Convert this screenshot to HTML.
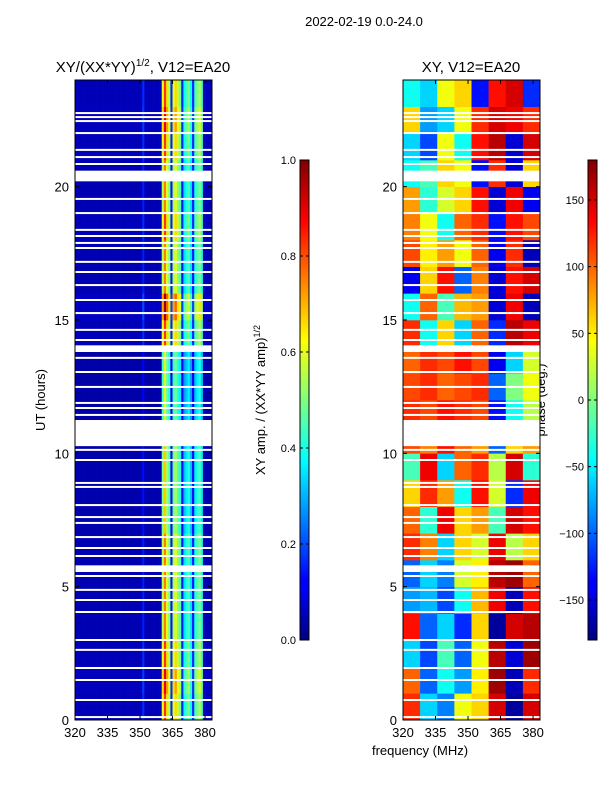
<!DOCTYPE html>
<html><head><meta charset="utf-8"><style>
body{margin:0;background:#fff;font-family:"Liberation Sans",sans-serif}
svg text{font-family:"Liberation Sans",sans-serif;fill:#000}
</style></head><body>
<svg id="s" width="600" height="800" xmlns="http://www.w3.org/2000/svg">
<defs>
<linearGradient id="jet" x1="0" y1="1" x2="0" y2="0">
<stop offset="0" stop-color="#00007f"/><stop offset="0.11" stop-color="#0000ff"/><stop offset="0.125" stop-color="#0000ff"/>
<stop offset="0.375" stop-color="#00ffff"/><stop offset="0.625" stop-color="#ffff00"/><stop offset="0.875" stop-color="#ff0000"/><stop offset="1" stop-color="#7f0000"/>
</linearGradient>
</defs>
<text x="364" y="26" font-size="13" text-anchor="middle">2022-02-19 0.0-24.0</text>
<text x="143" y="72" font-size="15" text-anchor="middle">XY/(XX*YY)<tspan font-size="10" dy="-6">1/2</tspan><tspan dy="6">, V12=EA20</tspan></text>
<text x="471" y="72" font-size="15" text-anchor="middle">XY, V12=EA20</text>
<text x="420" y="755" font-size="13" text-anchor="middle">frequency (MHz)</text>
<text transform="translate(45,400) rotate(-90)" font-size="13" text-anchor="middle">UT (hours)</text>
<text transform="translate(265,400) rotate(-90)" font-size="13" text-anchor="middle">XY amp. / (XX*YY amp)<tspan font-size="9" dy="-5">1/2</tspan></text>
<text transform="translate(545,400) rotate(-90)" font-size="13" text-anchor="middle">phase (deg.)</text>
<g id="g"></g>
</svg>
<script>
const ampCols=[0.05,0.05,0.05,0.05,0.05,0.05,0.05,0.05,0.05,0.05,0.05,0.05,0.05,0.05,0.05,0.05,0.05,0.05,0.05,0.05,0.05,0.05,0.05,0.05,0.05,0.05,0.05,0.05,0.05,0.05,0.05,0.15,0.05,0.05,0.05,0.05,0.05,0.05,0.05,0.05,0.55,0.75,0.6,0.5,0.15,0.55,0.6,0.5,0.45,0.15,0.35,0.4,0.45,0.35,0.15,0.4,0.45,0.5,0.4,0.05,0.05,0.05,0.05,0.05];
const ampHourFactor=[1.1,1.2,1.1,1.0,1.0,1.0,1.0,0.9,0.9,0.9,0.9,0.8,0.8,0.8,1.1,1.3,1.0,1.0,1.1,1.0,1.0,1.1,1.2,1.1];
const phase=[
[120,-60,-90,40,60,150,-170,150],[100,-100,-40,-80,50,170,-160,120],[-60,-110,-20,-100,40,160,-150,170],
[130,-100,-60,-120,60,-170,150,160],[-80,-70,-110,-40,70,140,-160,130],[-100,-60,-90,30,50,160,170,100],
[120,90,-60,60,30,140,20,60],[100,-30,140,60,80,-20,150,130],[60,120,80,-40,130,30,-120,140],
[-20,140,-60,100,120,20,150,-30],[110,90,130,100,80,-100,60,80],[120,110,130,120,110,-130,-40,20],
[110,120,100,110,120,-100,0,40],[100,120,110,130,110,-140,-60,30],[120,-40,60,-60,100,-120,160,140],
[-40,100,-20,70,80,-150,140,-160],[-140,60,130,-100,90,-150,130,150],[110,50,80,40,100,-140,120,-160],
[90,40,-40,100,120,-130,130,110],[80,-30,30,60,130,-150,140,-140],[-40,-20,60,40,-130,120,-150,60],
[-60,-110,40,-40,130,160,-150,150],[60,-80,-60,40,120,150,140,120],[-40,-60,40,60,-130,130,150,-120]];
const gapsWide=[[20.2,20.6],[13.8,14.05],[10.27,11.25],[5.55,5.8]];
const gapLines=[22.76,22.61,22.46,22.01,21.38,21.11,20.85,19.54,19.01,18.38,18.15,17.89,17.7,17.18,16.8,16.31,15.75,15.26,14.63,14.25,13.58,13.05,12.49,11.89,11.7,11.44,10.13,9.75,8.89,8.74,8.06,7.61,7.39,6.86,6.45,6.15,5.4,4.88,4.5,4.05,3.0,2.63,1.95,1.5,0.75,0.11];
const xTicks=[320,335,350,365,380];
const yTicks=[0,5,10,15,20];
const ampTicks=[0.0,0.2,0.4,0.6,0.8,1.0];
const phaseTicks=[-150,-100,-50,0,50,100,150];

const NS='http://www.w3.org/2000/svg', G=document.getElementById('g');
const F0=320,F1=383.2,T0=0,T1=24,Y0=720,Y1=80;
function jet(v){v=Math.max(0,Math.min(1,v));const c=t=>Math.round(255*Math.max(0,Math.min(1,1.5-Math.abs(4*v-t))));return `rgb(${c(3)},${c(2)},${c(1)})`;}
function el(t,a,p){const e=document.createElementNS(NS,t);for(const k in a)e.setAttribute(k,a[k]);(p||G).appendChild(e);return e;}
const yS=h=>Y0-(h-T0)/(T1-T0)*(Y0-Y1);
function panel(x0,x1,name){
  const xS=f=>x0+(f-F0)/(F1-F0)*(x1-x0);
  const g=el('g',{});
  const cp=el('clipPath',{id:'c'+name},g);el('rect',{x:x0,y:Y1,width:x1-x0,height:Y0-Y1},cp);
  const cells=el('g',{'clip-path':`url(#c${name})`},g);
  return {xS,g,cells};
}
// left amplitude
const L=panel(75,212,'amp-panel');
for(let h=0;h<24;h++)for(let i=0;i<ampCols.length;i++){
  const x=L.xS(F0+i),w=L.xS(F0+i+1)-x;
  const r=el('rect',{x:x,y:yS(h+1),width:w+0.3,height:yS(h)-yS(h+1)+0.3,fill:jet(ampCols[i]*ampHourFactor[h])},L.cells);
  
  
}
// right phase
const R=panel(403,540,'phase-panel');
const fw=(F1-F0)/8;
for(let h=0;h<24;h++)for(let j=0;j<8;j++){
  const x=R.xS(F0+j*fw),w=R.xS(F0+(j+1)*fw)-x;
  const r=el('rect',{x:x,y:yS(h+1),width:w+0.3,height:yS(h)-yS(h+1)+0.3,fill:jet((phase[h][j]+180)/360)},R.cells);
  
  
}
[L,R].forEach(P=>{
  gapsWide.forEach(g=>{const r=el('rect',{x:0,y:yS(g[1]),width:600,height:yS(g[0])-yS(g[1]),fill:'#fff'},P.cells);});
  gapLines.forEach(h=>{const r=el('rect',{x:0,y:yS(h)-1,width:600,height:2,fill:'#fff'},P.cells);});
});
function frame(P,x0,x1,showY){
  el('rect',{x:x0,y:Y1,width:x1-x0,height:Y0-Y1,fill:'none',stroke:'#000'},P.g);
  xTicks.forEach(t=>{const x=P.xS(t);el('line',{x1:x,x2:x,y1:Y0,y2:Y0-4,stroke:'#000'},P.g);el('line',{x1:x,x2:x,y1:Y1,y2:Y1+4,stroke:'#000'},P.g);
    const tx=el('text',{x:x,y:Y0+17,'font-size':13,'text-anchor':'middle'},P.g);tx.textContent=t;});
  yTicks.forEach(t=>{const y=yS(t);el('line',{x1:x0,x2:x0+4,y1:y,y2:y,stroke:'#000'},P.g);el('line',{x1:x1,x2:x1-4,y1:y,y2:y,stroke:'#000'},P.g);
    const tx=el('text',{x:x0-6,y:y+5,'font-size':13,'text-anchor':'end'},P.g);tx.textContent=t;});
}
frame(L,75,212);frame(R,403,540);
function cbar(x,ticks,lo,hi,name){
  const g=el('g',{});
  el('rect',{x:x,y:160,width:9,height:480,fill:'url(#jet)',stroke:'#000'},g);
  ticks.forEach(t=>{const y=640-(t-lo)/(hi-lo)*480;el('line',{x1:x,x2:x+3,y1:y,y2:y,stroke:'#000'},g);el('line',{x1:x+9,x2:x+6,y1:y,y2:y,stroke:'#000'},g);
    const tx=el('text',{x:x-4,y:y+4,'font-size':11,'text-anchor':'end'},g);tx.textContent=(lo===0?t.toFixed(1):(t<0?'\u2212'+(-t):t));});
}
cbar(300,ampTicks,0,1,'amp-colorbar');cbar(588,phaseTicks,-180,180,'phase-colorbar');
</script>
</body></html>
